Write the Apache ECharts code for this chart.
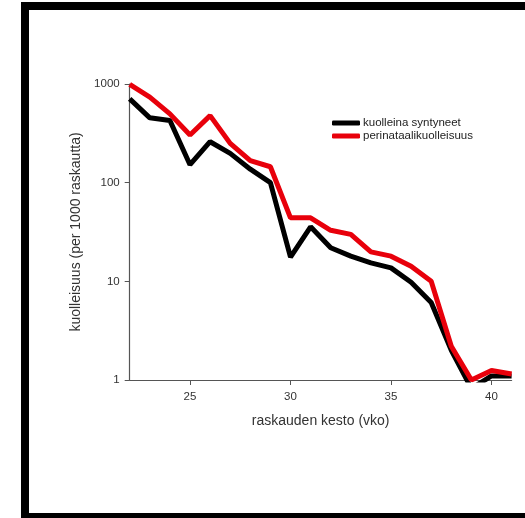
<!DOCTYPE html>
<html>
<head>
<meta charset="utf-8">
<script src="https://cdn.jsdelivr.net/npm/echarts@6/dist/echarts.min.js"></script>
<style>
html,body{margin:0;padding:0;background:#fff;}
#c{width:525px;height:518px;}
</style>
</head>
<body>
<div id="c"></div>
<script>
const weeks = [22,23,24,25,26,27,28,29,30,31,32,33,34,35,36,37,38,39,40,41];
const stillborn = [706,454,426,152,260,198,137,100,17.6,35.7,21.9,18,15.4,13.7,9.8,6.1,2.0,0.82,1.1,1.1];
const perinatal = [990,735,498,304,478,250,167,145,44,44,32.9,29.9,19.9,18,14.2,10,2.2,1.0,1.25,1.15];
const xTicks = [25,30,35,40];
const seriesNames = ['kuolleina syntyneet','perinataalikuolleisuus'];
const xName = 'raskauden kesto (vko)';
const yName = 'kuolleisuus (per 1000 raskautta)';

const chart = echarts.init(document.getElementById('c'), null, {renderer:'canvas'});
const font = 'Liberation Sans, Arial, sans-serif';
chart.setOption({
  animation:false,
  backgroundColor:'#fff',
  textStyle:{fontFamily:font},
  graphic:[{
    type:'rect', silent:true, z:100,
    shape:{x:25, y:6, width:700, height:511},
    style:{fill:null, stroke:'#000', lineWidth:8}
  }],
  grid:{left:129.7, right:13.4, top:84, bottom:138, containLabel:false},
  legend:{
    orient:'vertical', left:327, top:112,
    itemWidth:28, itemHeight:5, itemGap:1,
    icon:'roundRect',
    textStyle:{fontSize:11.5, color:'#222', fontFamily:font, padding:[0,0,0,-2]},
    data:seriesNames
  },
  xAxis:{
    type:'value', min:22, max:41,
    name:xName, nameLocation:'middle', nameGap:34,
    nameTextStyle:{fontSize:14, color:'#333', fontFamily:font},
    axisLine:{lineStyle:{color:'#555', width:1.2}},
    axisTick:{show:true, length:5, customValues:xTicks, lineStyle:{color:'#555'}},
    axisLabel:{customValues:xTicks, fontSize:11.5, color:'#333', margin:11, fontFamily:font},
    splitLine:{show:false}
  },
  yAxis:{
    type:'log', logBase:10, min:1, max:1000,
    name:yName, nameLocation:'middle', nameGap:44,
    nameTextStyle:{fontSize:14, color:'#333', fontFamily:font},
    axisLine:{show:true, lineStyle:{color:'#555', width:1.2}},
    axisTick:{show:true, length:5, lineStyle:{color:'#555'}},
    axisLabel:{fontSize:11.5, color:'#333', margin:10, fontFamily:font,
      formatter:function(v){return String(Math.round(v));}},
    splitLine:{show:false},
    minorTick:{show:false}
  },
  series:[
    {
      name:seriesNames[0], type:'line', clip:true,
      data:weeks.map((w,i)=>[w, stillborn[i]]),
      symbol:'none', color:'#000',
      lineStyle:{color:'#000', width:5}
    },
    {
      name:seriesNames[1], type:'line', clip:true,
      data:weeks.map((w,i)=>[w, perinatal[i]]),
      symbol:'none', color:'#e8000b',
      lineStyle:{color:'#e8000b', width:5}
    }
  ]
});
</script>
</body>
</html>
